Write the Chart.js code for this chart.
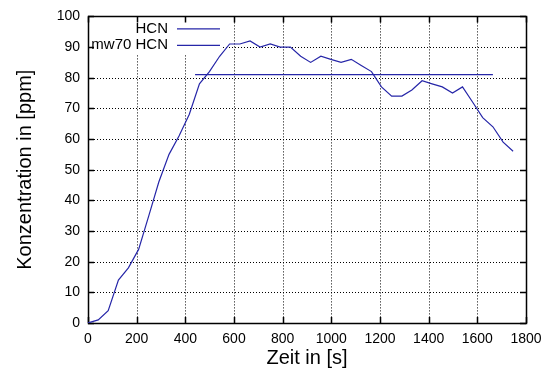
<!DOCTYPE html>
<html>
<head>
<meta charset="utf-8">
<script src="https://cdn.jsdelivr.net/npm/chart.js@4.4.1/dist/chart.umd.min.js"></script>
<style>
  html, body { margin: 0; padding: 0; background: #fff; }
  #wrap { width: 552px; height: 372px; }
</style>
</head>
<body>
<div id="wrap"><canvas id="hcnChart" width="552" height="372"></canvas></div>
<script>
// Messzeitpunkte in s
const zeit = [0, 42, 83, 125, 166, 208, 250, 291, 333, 374, 416, 458, 499, 541,
  582, 624, 666, 707, 749, 790, 832, 874, 915, 957, 998, 1040, 1082, 1123, 1165,
  1206, 1248, 1290, 1331, 1373, 1414, 1456, 1498, 1539, 1581, 1622, 1664, 1706, 1747];
// HCN-Konzentration in ppm
const hcn = [0, 1, 4, 14, 18, 24, 35, 46, 55, 61, 68, 78, 82, 87,
  91, 91, 92, 90, 91, 90, 90, 87, 85, 87, 86, 85, 86, 84, 82,
  77, 74, 74, 76, 79, 78, 77, 75, 77, 72, 67, 64, 59, 56];
// Mittelwert (mw70)
const mw70Zeit = [440, 1664];
const mw70Wert = [81, 81];

const xTicks = [0, 200, 400, 600, 800, 1000, 1200, 1400, 1600, 1800];
const yTicks = [0, 10, 20, 30, 40, 50, 60, 70, 80, 90, 100];
const legendLabels = ['HCN', 'mw70 HCN'];

const lineColor = '#2626a8';
const font = "'Liberation Sans', Arial, sans-serif";

const toPoints = (xs, ys) => xs.map((x, i) => ({ x: x, y: ys[i] }));

// gnuplot-artiger Rahmen: gepunktetes Gitter, Ticks nach innen, Key oben links
const frame = {
  id: 'frame',
  beforeDatasetsDraw(chart) {
    const { ctx, chartArea: a, scales: { x, y } } = chart;
    ctx.save();
    ctx.strokeStyle = '#000';
    ctx.lineWidth = 1;
    ctx.setLineDash([1, 2]);
    xTicks.slice(1, -1).forEach(v => {
      const px = Math.round(x.getPixelForValue(v)) + 0.5;
      ctx.beginPath(); ctx.moveTo(px, a.top); ctx.lineTo(px, a.bottom); ctx.stroke();
    });
    yTicks.slice(1, -1).forEach(v => {
      const py = Math.round(y.getPixelForValue(v)) + 0.5;
      ctx.beginPath(); ctx.moveTo(a.left, py); ctx.lineTo(a.right, py); ctx.stroke();
    });
    ctx.setLineDash([]);

    // Hintergrund des Keys
    ctx.fillStyle = '#fff';
    ctx.fillRect(a.left + 1, a.top + 1, 134, 37);

    ctx.lineWidth = 1.5;
    const tl = 6;
    xTicks.forEach(v => {
      const px = Math.round(x.getPixelForValue(v)) + 0.5;
      ctx.beginPath();
      ctx.moveTo(px, a.bottom); ctx.lineTo(px, a.bottom - tl);
      ctx.moveTo(px, a.top); ctx.lineTo(px, a.top + tl);
      ctx.stroke();
    });
    yTicks.forEach(v => {
      const py = Math.round(y.getPixelForValue(v)) + 0.5;
      ctx.beginPath();
      ctx.moveTo(a.left, py); ctx.lineTo(a.left + tl, py);
      ctx.moveTo(a.right, py); ctx.lineTo(a.right - tl, py);
      ctx.stroke();
    });
    ctx.strokeRect(Math.round(a.left) + 0.5, Math.round(a.top) + 0.5,
      Math.round(a.right - a.left), Math.round(a.bottom - a.top));
    ctx.restore();
  },
  afterDatasetsDraw(chart) {
    const { ctx, chartArea: a } = chart;
    ctx.save();
    ctx.font = '15px ' + font;
    ctx.fillStyle = '#000';
    ctx.textAlign = 'right';
    ctx.textBaseline = 'middle';
    ctx.strokeStyle = lineColor;
    ctx.lineWidth = 1.2;
    legendLabels.forEach((label, i) => {
      const ly = a.top + 12 + i * 16.5;
      ctx.fillText(label, a.left + 80, ly);
      ctx.beginPath();
      ctx.moveTo(a.left + 89, ly + 0.5);
      ctx.lineTo(a.left + 132, ly + 0.5);
      ctx.stroke();
    });
    ctx.restore();
  }
};

new Chart(document.getElementById('hcnChart'), {
  type: 'line',
  data: {
    datasets: [
      {
        label: legendLabels[0],
        data: toPoints(zeit, hcn),
        borderColor: lineColor,
        borderWidth: 1.2,
        pointRadius: 0,
        tension: 0
      },
      {
        label: legendLabels[1],
        data: toPoints(mw70Zeit, mw70Wert),
        borderColor: lineColor,
        borderWidth: 1.2,
        pointRadius: 0,
        tension: 0
      }
    ]
  },
  options: {
    responsive: false,
    animation: false,
    layout: { padding: { left: 0, top: 13, right: 26, bottom: 0 } },
    plugins: {
      legend: { display: false },
      tooltip: { enabled: false }
    },
    scales: {
      x: {
        type: 'linear',
        min: 0,
        max: 1800,
        afterBuildTicks: s => { s.ticks = xTicks.map(v => ({ value: v })); },
        afterFit: s => { s.height = 49; },
        grid: { display: false, drawTicks: false },
        border: { display: false },
        ticks: {
          padding: 8, color: '#000', maxRotation: 0,
          font: { family: font, size: 14 },
          callback: v => String(v)
        },
        title: {
          display: true,
          text: 'Zeit in [s]',
          color: '#000',
          font: { family: font, size: 20 },
          padding: { top: 0, bottom: 2 }
        }
      },
      y: {
        min: 0,
        max: 100,
        afterBuildTicks: s => { s.ticks = yTicks.map(v => ({ value: v })); },
        afterFit: s => { s.width = 88; },
        grid: { display: false, drawTicks: false },
        border: { display: false },
        ticks: {
          padding: 8, color: '#000',
          font: { family: font, size: 14 },
          callback: v => String(v)
        },
        title: {
          display: true,
          text: 'Konzentration in [ppm]',
          color: '#000',
          font: { family: font, size: 20 },
          padding: { top: 13, bottom: 0 }
        }
      }
    }
  },
  plugins: [frame]
});
</script>
</body>
</html>
